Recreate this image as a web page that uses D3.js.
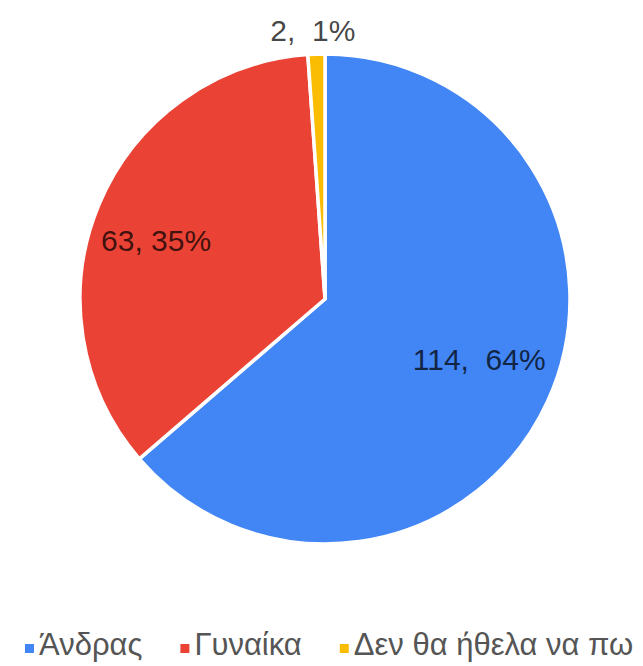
<!DOCTYPE html>
<html>
<head>
<meta charset="utf-8">
<script src="https://cdn.jsdelivr.net/npm/d3@7"></script>
<style>
  html, body { margin: 0; padding: 0; background: #fff; }
  svg { display: block; }
  text { font-family: "Liberation Sans", Arial, sans-serif; white-space: pre; }
</style>
</head>
<body>
<svg id="chart" width="643" height="666"></svg>
<script>
// Survey answers: gender of respondents
const categories = ["Άνδρας", "Γυναίκα", "Δεν θα ήθελα να πω"];
const counts = [114, 63, 2];
const colors = ["#4285F4", "#EA4335", "#FBBC04"];

const width = 643, height = 666;
const cx = 325, cy = 299, radius = 245;

const svg = d3.select("#chart");
const total = d3.sum(counts);
const data = categories.map((c, i) => ({ name: c, value: counts[i], color: colors[i] }));

const pie = d3.pie().value(d => d.value).sort(null);
const arcs = pie(data);

const arc = d3.arc().innerRadius(0).outerRadius(radius);

const g = svg.append("g").attr("transform", `translate(${cx},${cy})`);

g.selectAll("path.slice")
  .data(arcs)
  .join("path")
  .attr("class", "slice")
  .attr("d", arc)
  .attr("fill", d => d.data.color)
  .attr("stroke", "#fff")
  .attr("stroke-width", 3.5)
  .attr("stroke-linejoin", "round");

// label anchor: slightly behind the slice mid-angle; tiny slices get an outside label
function labelPos(d) {
  const small = (d.endAngle - d.startAngle) < 0.3;
  const a = (d.startAngle + d.endAngle) / 2 - (small ? 0.01 : 0.06);
  const r = small ? radius * 1.1 : radius * (Math.sin(a) < 0 ? 0.73 : 0.675);
  return [r * Math.sin(a), -r * Math.cos(a)];
}

g.selectAll("text.val")
  .data(arcs)
  .join("text")
  .attr("class", "val")
  .attr("transform", d => `translate(${labelPos(d)})`)
  .attr("text-anchor", "middle")
  .attr("dy", "0.36em")
  .attr("font-size", 30)
  .attr("fill", "#000")
  .attr("fill-opacity", 0.74)
  .text(d => {
    const pct = Math.round(d.data.value / total * 100);
    return d.data.value >= 100 || d.data.value < 10
      ? `${d.data.value},  ${pct}%`
      : `${d.data.value}, ${pct}%`;
  });

// legend along the bottom
const legend = svg.append("g").attr("transform", "translate(25,655)");
let x = 0;
data.forEach(d => {
  const item = legend.append("g").attr("transform", `translate(${x},0)`);
  item.append("rect")
    .attr("x", 0).attr("y", -11)
    .attr("width", 9).attr("height", 9)
    .attr("fill", d.color);
  const t = item.append("text")
    .attr("x", 14).attr("y", 0)
    .attr("font-size", 31)
    .attr("fill", "#555")
    .text(d.name);
  x += 14 + t.node().getComputedTextLength() + 38;
});
</script>
</body>
</html>
